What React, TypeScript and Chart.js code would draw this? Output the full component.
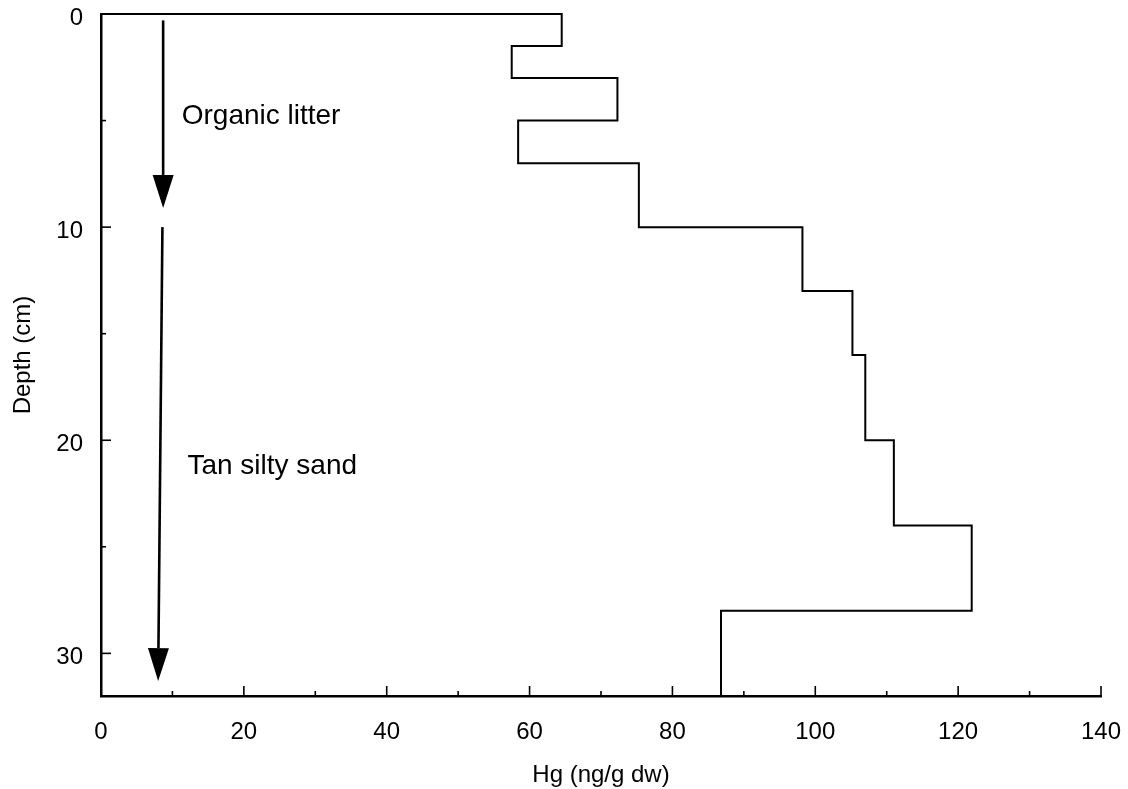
import React, { useEffect, useRef } from 'react';
import { Chart, registerables } from 'chart.js';

Chart.register(...registerables);

// ---- Data ----
const depthBoundaries = [0, 1.5, 3, 5, 7, 10, 13, 16, 20, 24, 28, 32];
const hgValues = [64.5, 57.5, 72.3, 58.4, 75.3, 98.2, 105.2, 107.0, 111.0, 121.9, 86.8];

const xTickValues = [0, 20, 40, 60, 80, 100, 120, 140];
const xMinorTickValues = [10, 30, 50, 70, 90, 110, 130];
const yTickValues = [0, 10, 20, 30];
const yMinorTickValues = [5, 15, 25];

const arrowStartX = [8.7, 8.6];
const arrowEndX = [8.7, 8.0];
const arrowStartDepth = [0.3, 10];
const arrowEndDepth = [9.1, 31.3];

const annotationTexts = ['Organic litter', 'Tan silty sand'];
const annotationX = [11.3, 12.1];
const annotationDepth = [5.15, 21.6];

const xTitle = 'Hg (ng/g dw)';
const yTitle = 'Depth (cm)';

const FONT = '"Liberation Sans", Arial, Helvetica, sans-serif';

const overlayPlugin = {
  id: 'overlay',
  afterDraw(chart: any) {
    const ctx = chart.ctx;
    const xs = chart.scales.x;
    const ys = chart.scales.y;
    const area = chart.chartArea;
    ctx.save();
    ctx.strokeStyle = '#000';
    ctx.fillStyle = '#000';
    // inward tick marks on x axis
    ctx.lineWidth = 1.6;
    const drawXTick = (v: number, len: number) => {
      const px = xs.getPixelForValue(v);
      ctx.beginPath();
      ctx.moveTo(px, area.bottom);
      ctx.lineTo(px, area.bottom - len);
      ctx.stroke();
    };
    xTickValues.forEach((v) => drawXTick(v, 10));
    xMinorTickValues.forEach((v) => drawXTick(v, 5));
    const drawYTick = (v: number, len: number) => {
      const py = ys.getPixelForValue(v);
      ctx.beginPath();
      ctx.moveTo(area.left, py);
      ctx.lineTo(area.left + len, py);
      ctx.stroke();
    };
    yTickValues.forEach((v) => drawYTick(v, 10));
    yMinorTickValues.forEach((v) => drawYTick(v, 5));

    // arrows
    for (let i = 0; i < arrowStartX.length; i++) {
      const x0 = xs.getPixelForValue(arrowStartX[i]);
      const y0 = ys.getPixelForValue(arrowStartDepth[i]);
      const x1 = xs.getPixelForValue(arrowEndX[i]);
      const y1 = ys.getPixelForValue(arrowEndDepth[i]);
      const headLen = 33;
      const headHalf = 10.5;
      const ang = Math.atan2(y1 - y0, x1 - x0);
      const bx = x1 - headLen * Math.cos(ang);
      const by = y1 - headLen * Math.sin(ang);
      ctx.lineWidth = 2.6;
      ctx.beginPath();
      ctx.moveTo(x0, y0);
      ctx.lineTo(bx, by);
      ctx.stroke();
      ctx.beginPath();
      ctx.moveTo(x1, y1);
      ctx.lineTo(bx + headHalf * Math.sin(ang), by - headHalf * Math.cos(ang));
      ctx.lineTo(bx - headHalf * Math.sin(ang), by + headHalf * Math.cos(ang));
      ctx.closePath();
      ctx.fill();
    }

    // annotations
    ctx.font = `28px ${FONT}`;
    ctx.textAlign = 'left';
    ctx.textBaseline = 'alphabetic';
    for (let i = 0; i < annotationTexts.length; i++) {
      ctx.fillText(
        annotationTexts[i],
        xs.getPixelForValue(annotationX[i]),
        ys.getPixelForValue(annotationDepth[i])
      );
    }
    ctx.restore();
  },
};

export default function App() {
  const canvasRef = useRef<HTMLCanvasElement | null>(null);

  useEffect(() => {
    if (!canvasRef.current) return;
    const profilePoints: { x: number; y: number }[] = [{ x: 0, y: depthBoundaries[0] }];
    hgValues.forEach((v, i) => {
      profilePoints.push({ x: v, y: depthBoundaries[i] });
      profilePoints.push({ x: v, y: depthBoundaries[i + 1] });
    });

    const chart = new Chart(canvasRef.current, {
      type: 'scatter',
      data: {
        datasets: [
          {
            data: profilePoints,
            showLine: true,
            borderColor: '#000',
            backgroundColor: '#000',
            borderWidth: 2,
            pointRadius: 0,
            pointHoverRadius: 0,
            fill: false,
            tension: 0,
            clip: false as any,
          } as any,
        ],
      },
      options: {
        responsive: false,
        animation: false,
        events: [],
        layout: { padding: { left: 0, top: 14, right: 27, bottom: 0 } },
        plugins: {
          legend: { display: false },
          tooltip: { enabled: false },
        },
        scales: {
          x: {
            type: 'linear',
            position: 'bottom',
            min: 0,
            max: 140,
            grid: { display: false },
            border: { display: true, color: '#000', width: 2.5 },
            ticks: {
              color: '#000',
              font: { family: FONT, size: 24 },
              padding: 14,
              maxRotation: 0,
              autoSkip: false,
            },
            afterBuildTicks: (s: any) => {
              s.ticks = xTickValues.map((v) => ({ value: v }));
            },
            afterFit: (s: any) => {
              s.height = 93;
              s.paddingLeft = 0;
              s.paddingRight = 0;
            },
            title: {
              display: true,
              text: xTitle,
              color: '#000',
              font: { family: FONT, size: 24, lineHeight: 1 },
              padding: { top: 0, bottom: 2 },
            },
          },
          y: {
            type: 'linear',
            min: 0,
            max: 32,
            reverse: true,
            grid: { display: false },
            border: { display: true, color: '#000', width: 2.5 },
            ticks: {
              color: '#000',
              font: { family: FONT, size: 24 },
              padding: 10,
              labelOffset: 4,
              autoSkip: false,
            },
            afterBuildTicks: (s: any) => {
              s.ticks = yTickValues.map((v) => ({ value: v }));
            },
            afterFit: (s: any) => {
              s.width = 101;
              s.paddingTop = 0;
              s.paddingBottom = 0;
            },
            title: {
              display: true,
              text: yTitle,
              color: '#000',
              font: { family: FONT, size: 24, lineHeight: 1.2 },
              padding: { top: 9, bottom: 0 },
            },
          },
        },
      },
      plugins: [overlayPlugin],
    });
    return () => chart.destroy();
  }, []);

  return (
    <div style={{ position: 'absolute', left: 0, top: 0, width: 1128, height: 789, background: '#fff' }}>
      <canvas ref={canvasRef} width={1128} height={789} style={{ display: 'block' }} />
    </div>
  );
}
